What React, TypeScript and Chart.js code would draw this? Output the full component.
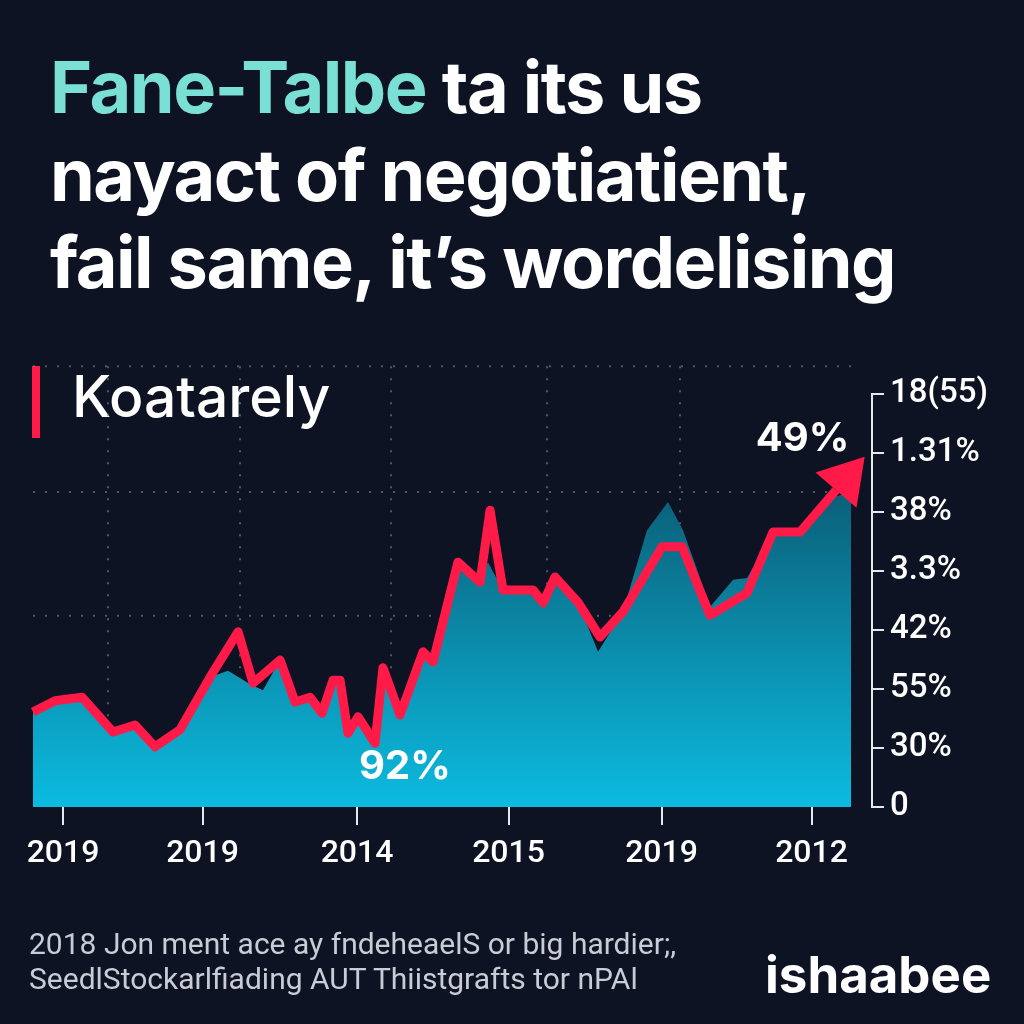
import React, { useEffect, useRef } from 'react';
import { Chart, registerables } from 'chart.js';

Chart.register(...registerables);

const BG = '#0e1324';
const RED = '#ff1a48';

const X_TICKS = [0, 0.93, 1.96, 2.97, 3.99, 4.99];
const X_LABELS = ['2019', '2019', '2014', '2015', '2019', '2012'];
const Y_LABELS = ['0', '30%', '55%', '42%', '3.3%', '38%', '1.31%', '18(55)'];

const LINE_X = [-0.2, -0.053, 0.127, 0.333, 0.48, 0.613, 0.78, 0.98, 1.167, 1.267, 1.447, 1.547, 1.647, 1.727, 1.8, 1.847, 1.9, 1.967, 2.08, 2.133, 2.247, 2.4, 2.467, 2.633, 2.78, 2.847, 2.933, 3.133, 3.2, 3.28, 3.433, 3.58, 3.733, 3.993, 4.127, 4.313, 4.56, 4.733, 4.913, 5.153];
const LINE_Y = [1.61, 1.8, 1.86, 1.27, 1.39, 1.02, 1.31, 2.2, 2.97, 2.1, 2.49, 1.78, 1.86, 1.59, 2.15, 2.15, 1.25, 1.53, 1.08, 2.36, 1.56, 2.63, 2.46, 4.15, 3.81, 5.03, 3.68, 3.68, 3.46, 3.9, 3.47, 2.88, 3.31, 4.41, 4.41, 3.25, 3.63, 4.66, 4.66, 5.37];

const AREA_X = [-0.2, -0.053, 0.127, 0.333, 0.48, 0.613, 0.78, 0.98, 1.1, 1.247, 1.333, 1.447, 1.547, 1.647, 1.727, 1.8, 1.847, 1.9, 1.967, 2.08, 2.133, 2.247, 2.4, 2.467, 2.633, 2.78, 2.833, 2.933, 3.133, 3.2, 3.28, 3.433, 3.567, 3.733, 3.893, 4.033, 4.133, 4.227, 4.313, 4.467, 4.56, 4.733, 4.913, 5.133, 5.253];
const AREA_Y = [1.61, 1.8, 1.86, 1.27, 1.39, 1.02, 1.31, 2.2, 2.31, 2.08, 1.98, 2.49, 1.78, 1.86, 1.59, 2.15, 2.15, 1.25, 1.53, 1.08, 2.36, 1.56, 2.63, 2.46, 4.15, 3.81, 4.15, 3.68, 3.68, 3.46, 3.9, 3.47, 2.63, 3.31, 4.69, 5.17, 4.69, 4.02, 3.39, 3.85, 3.88, 4.66, 4.66, 5.25, 5.34];

const GRID_X = [0.3, 1.18, 2.187, 3.227, 4.113];
const GRID_Y = [3.24, 5.34, 7.47];

const CALLOUT_X = [2.28, 4.93];
const CALLOUT_Y = [0.68, 6.24];
const CALLOUT_TEXT = ['92%', '49%'];

const decorPlugin = {
  id: 'decor',
  beforeDatasetsDraw(chart: any) {
    const { ctx, chartArea, scales } = chart;
    const xs = scales.x;
    const ys = scales.y;
    ctx.save();
    ctx.setLineDash([2, 10]);
    ctx.lineWidth = 2;
    ctx.strokeStyle = 'rgba(125,135,155,0.6)';
    const topPx = ys.getPixelForValue(GRID_Y[GRID_Y.length - 1]);
    GRID_Y.forEach((v) => {
      const y = ys.getPixelForValue(v);
      ctx.beginPath();
      ctx.moveTo(chartArea.left, y);
      ctx.lineTo(xs.getPixelForValue(5.253), y);
      ctx.stroke();
    });
    GRID_X.forEach((v) => {
      const x = xs.getPixelForValue(v);
      ctx.beginPath();
      ctx.moveTo(x, topPx);
      ctx.lineTo(x, chartArea.bottom);
      ctx.stroke();
    });
    ctx.restore();
  },
  afterDatasetsDraw(chart: any) {
    const { ctx, scales } = chart;
    const meta = chart.getDatasetMeta(0);
    const pts = meta.data;
    const a = pts[pts.length - 2];
    const b = pts[pts.length - 1];
    const dx = b.x - a.x;
    const dy = b.y - a.y;
    const len = Math.hypot(dx, dy);
    const ux = dx / len;
    const uy = dy / len;
    const px = -uy;
    const py = ux;
    const L = 44;
    const W = 27;
    ctx.save();
    ctx.fillStyle = RED;
    ctx.beginPath();
    ctx.moveTo(b.x + ux * L, b.y + uy * L);
    ctx.lineTo(b.x + px * W, b.y + py * W);
    ctx.lineTo(b.x - px * W, b.y - py * W);
    ctx.closePath();
    ctx.fill();

    ctx.fillStyle = '#ffffff';
    ctx.font = 'bold 40px Inter, "Noto Sans", sans-serif';
    ctx.textAlign = 'center';
    ctx.textBaseline = 'middle';
    CALLOUT_TEXT.forEach((t, i) => {
      ctx.fillText(t, scales.x.getPixelForValue(CALLOUT_X[i]), scales.y.getPixelForValue(CALLOUT_Y[i]));
    });
    ctx.restore();
  },
};

export default function App() {
  const ref = useRef<HTMLCanvasElement>(null);

  useEffect(() => {
    document.body.style.margin = '0';
    const canvas = ref.current;
    if (!canvas) return;
    const chart = new Chart(canvas, {
      type: 'line',
      data: {
        datasets: [
          {
            label: 'Koatarely',
            data: LINE_X.map((x, i) => ({ x, y: LINE_Y[i] })),
            borderColor: RED,
            borderWidth: 9,
            borderJoinStyle: 'round',
            borderCapStyle: 'butt',
            pointRadius: 0,
            fill: false,
            tension: 0,
            order: 0,
            clip: false,
          },
          {
            label: 'area',
            data: AREA_X.map((x, i) => ({ x, y: AREA_Y[i] })),
            borderWidth: 0,
            borderColor: 'rgba(0,0,0,0)',
            pointRadius: 0,
            fill: 'origin',
            tension: 0,
            order: 1,
            backgroundColor: (c: any) => {
              const ca = c.chart.chartArea;
              if (!ca) return '#0b8fb0';
              const g = c.chart.ctx.createLinearGradient(0, ca.top, 0, ca.bottom);
              g.addColorStop(0, '#0b4258');
              g.addColorStop(0.5, '#0b7f9c');
              g.addColorStop(1, '#0bbbe0');
              return g;
            },
          },
        ],
      } as any,
      options: {
        animation: false,
        responsive: false,
        maintainAspectRatio: false,
        layout: { padding: { left: 33, top: 394, right: 0, bottom: 0 } },
        plugins: {
          legend: { display: false },
          tooltip: { enabled: false },
          title: { display: false },
        },
        scales: {
          x: {
            type: 'linear',
            position: 'bottom',
            min: -0.2,
            max: 5.393,
            afterBuildTicks: (s: any) => {
              s.ticks = X_TICKS.map((v) => ({ value: v }));
            },
            afterFit: (s: any) => {
              s.height = 217;
            },
            ticks: {
              autoSkip: false,
              maxRotation: 0,
              color: '#ffffff',
              padding: 10,
              font: { family: 'Roboto, "Noto Sans", sans-serif', size: 32, weight: '500' },
              callback: (_v: any, i: number) => X_LABELS[i],
            },
            grid: { drawOnChartArea: false, drawTicks: true, tickLength: 18, color: '#e4e7ee', lineWidth: 2 },
            border: { display: false },
          },
          y: {
            type: 'linear',
            position: 'right',
            min: 0,
            max: 7,
            afterBuildTicks: (s: any) => {
              s.ticks = Y_LABELS.map((_l, i) => ({ value: i }));
            },
            afterFit: (s: any) => {
              s.width = 152;
            },
            ticks: {
              color: '#ffffff',
              padding: 6,
              crossAlign: 'near',
              font: { family: 'Roboto, "Noto Sans", sans-serif', size: 33, weight: '500' },
              callback: (_v: any, i: number) => Y_LABELS[i],
            },
            grid: { drawOnChartArea: false, drawTicks: true, tickLength: 12, color: '#e4e7ee', lineWidth: 2 },
            border: { display: true, color: '#e4e7ee', width: 2 },
          },
        },
      } as any,
      plugins: [decorPlugin],
    });
    return () => chart.destroy();
  }, []);

  const titleFont = 'Inter, "Noto Sans", sans-serif';

  return (
    <div
      style={{
        position: 'fixed',
        left: 0,
        top: 0,
        width: 1024,
        height: 1024,
        background: BG,
        overflow: 'hidden',
        fontFamily: titleFont,
        color: '#ffffff',
      }}
    >
      <div
        style={{
          position: 'absolute',
          left: 50,
          top: 43,
          fontSize: 72,
          lineHeight: '87.5px',
          fontWeight: 700,
          whiteSpace: 'nowrap',
          letterSpacing: '-1.5px',
        }}
      >
        <div>
          <span style={{ color: '#7adfd5' }}>Fane-Talbe</span> ta its us
        </div>
        <div>nayact of negotiatient,</div>
        <div>fail same, it’s wordelising</div>
      </div>

      <div style={{ position: 'absolute', left: 32, top: 366, width: 8, height: 72, background: RED }} />
      <div
        style={{
          position: 'absolute',
          left: 72,
          top: 368,
          fontSize: 57,
          lineHeight: '57px',
          fontWeight: 500,
          whiteSpace: 'nowrap',
        }}
      >
        Koatarely
      </div>

      <canvas ref={ref} width={1024} height={1024} style={{ position: 'absolute', left: 0, top: 0, width: 1024, height: 1024 }} />

      <div
        style={{
          position: 'absolute',
          left: 29,
          top: 926,
          fontFamily: 'Roboto, "Noto Sans", sans-serif',
          fontSize: 30,
          lineHeight: '35px',
          color: '#c9ccd4',
          whiteSpace: 'nowrap',
        }}
      >
        <div>2018 Jon ment ace ay fndeheaelS or big hardier;,</div>
        <div>SeedlStockarlfiading AUT Thiistgrafts tor nPAl</div>
      </div>

      <div
        style={{
          position: 'absolute',
          left: 765,
          top: 949,
          fontSize: 51,
          lineHeight: '51px',
          fontWeight: 700,
          whiteSpace: 'nowrap',
        }}
      >
        ishaabee
      </div>
    </div>
  );
}
